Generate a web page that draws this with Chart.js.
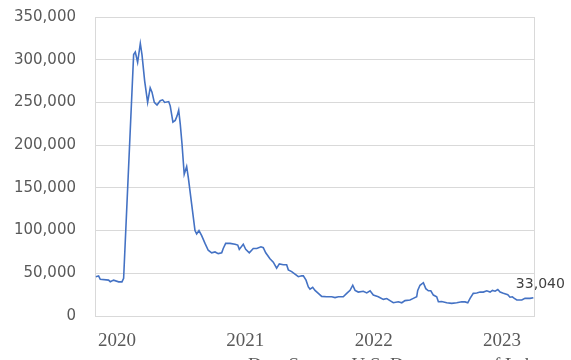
<!DOCTYPE html>
<html>
<head>
<meta charset="utf-8">
<script src="https://cdn.jsdelivr.net/npm/chart.js@4/dist/chart.umd.min.js"></script>
<style>
  html, body { margin: 0; padding: 0; background: #fff; }
  #chart { display: block; }
</style>
</head>
<body>
<canvas id="chart" width="571" height="360"></canvas>
<script>
// ── Data ─────────────────────────────────────────────────────
// position on the time axis, as a decimal year
const yearPos = [
  2019.836, 2019.857, 2019.870, 2019.935, 2019.948, 2019.974, 2020.013, 2020.039, 2020.052,
  2020.130, 2020.143, 2020.161, 2020.182, 2020.195, 2020.216, 2020.239, 2020.259, 2020.273,
  2020.291, 2020.312, 2020.337, 2020.356, 2020.372, 2020.403, 2020.415, 2020.436, 2020.454,
  2020.468, 2020.481, 2020.493, 2020.507, 2020.524, 2020.543, 2020.556, 2020.582, 2020.608,
  2020.621, 2020.639, 2020.660, 2020.686, 2020.711, 2020.738, 2020.764, 2020.789, 2020.816,
  2020.828, 2020.847, 2020.881, 2020.920, 2020.941, 2020.953, 2020.984, 2021.003, 2021.031,
  2021.062, 2021.089, 2021.122, 2021.140, 2021.159, 2021.192, 2021.218, 2021.244, 2021.265,
  2021.296, 2021.322, 2021.335, 2021.361, 2021.387, 2021.413, 2021.439, 2021.452, 2021.473,
  2021.491, 2021.504, 2021.525, 2021.543, 2021.569, 2021.595, 2021.634, 2021.673, 2021.699,
  2021.725, 2021.763, 2021.790, 2021.816, 2021.837, 2021.855, 2021.880, 2021.919, 2021.946,
  2021.972, 2021.997, 2022.036, 2022.075, 2022.102, 2022.127, 2022.153, 2022.192, 2022.219,
  2022.244, 2022.283, 2022.309, 2022.335, 2022.343, 2022.361, 2022.387, 2022.406, 2022.426,
  2022.445, 2022.465, 2022.491, 2022.504, 2022.530, 2022.569, 2022.608, 2022.647, 2022.686,
  2022.712, 2022.733, 2022.751, 2022.776, 2022.803, 2022.829, 2022.854, 2022.881, 2022.907,
  2022.925, 2022.946, 2022.967, 2022.985, 2023.010, 2023.045, 2023.062, 2023.080, 2023.096,
  2023.115, 2023.154, 2023.179, 2023.218, 2023.244,
];

const claims = [
   46000,  47000,  43000,  42000,  40000,  42000,  40000,  40000,  44000,
  306000, 309000, 297000, 319000, 306000, 275000, 250000, 267000, 262000,
  250000, 247000, 252000, 253000, 250000, 251000, 246000, 227000, 229000,
  234000, 241000, 225000, 201000, 166000, 175000, 162000, 131000, 100000,
   96000, 100000,  94000,  85000,  77000,  74000,  75000,  73000,  74000,
   79000,  85000,  85000,  84000,  83000,  78000,  84000,  78000,  74000,
   79000,  79000,  81000,  80000,  74000,  67000,  63000,  56000,  61000,
   60000,  60000,  54000,  52000,  49000,  46000,  47000,  47000,  42000,
   34000,  31500,  33500,  30000,  26500,  23000,  22500,  22500,  21500,
   22500,  22500,  26500,  30000,  36000,  30000,  28000,  29000,  27000,
   29500,  24500,  22500,  19500,  20500,  18000,  15500,  16700,  15500,
   18000,  18700,  20600,  22500,  30000,  36000,  39000,  32000,  29500,
   29500,  24500,  22500,  16700,  17000,  15500,  14800,  15500,  16700,
   16500,  15500,  20600,  26500,  27000,  28000,  28000,  29500,  28000,
   30000,  29000,  31000,  28000,  26500,  25000,  22000,  22500,  20600,
   18700,  18700,  20600,  20600,  21400,
];

const yearTicks  = [2020, 2021, 2022, 2023];
const xRange     = [2019.829, 2023.249];
const yTicks     = [0, 50000, 100000, 150000, 200000, 250000, 300000, 350000];
const lastLabel  = '33,040';
const sourceNote = 'Data Source: U.S. Department of Labor';

// ── Plugins ──────────────────────────────────────────────────
const framePlugin = {
  id: 'frame',
  beforeDatasetsDraw(chart) {
    const { ctx, chartArea: a } = chart;
    ctx.save();
    ctx.strokeStyle = '#d9d9d9';
    ctx.lineWidth = 1;
    ctx.strokeRect(Math.round(a.left) + 0.5, Math.round(a.top) + 0.5,
                   Math.round(a.right - a.left), Math.round(a.bottom - a.top));
    ctx.restore();
  },
};

const endLabelPlugin = {
  id: 'endLabel',
  afterDatasetsDraw(chart) {
    const pts = chart.getDatasetMeta(0).data;
    const p = pts[pts.length - 1];
    const { ctx } = chart;
    ctx.save();
    ctx.font = '14px "DejaVu Sans"';
    ctx.fillStyle = '#404040';
    ctx.textAlign = 'center';
    ctx.textBaseline = 'middle';
    ctx.fillText(lastLabel, p.x + 7, p.y - 13);
    ctx.restore();
  },
};

const sourcePlugin = {
  id: 'source',
  afterDraw(chart) {
    const { ctx } = chart;
    ctx.save();
    ctx.font = '19px "Liberation Serif"';
    ctx.fillStyle = '#595959';
    ctx.textAlign = 'left';
    ctx.textBaseline = 'top';
    ctx.fillText(sourceNote, 248, 357);
    ctx.restore();
  },
};

// ── Chart ────────────────────────────────────────────────────
new Chart(document.getElementById('chart'), {
  type: 'line',
  data: {
    datasets: [{
      data: yearPos.map((x, i) => ({ x, y: claims[i] })),
      borderColor: '#4472c4',
      borderWidth: 1.6,
      pointRadius: 0,
      tension: 0,
      fill: false,
    }],
  },
  options: {
    responsive: false,
    animation: false,
    layout: { padding: { top: 17, right: 37, bottom: 0, left: 0 } },
    plugins: { legend: { display: false }, tooltip: { enabled: false } },
    scales: {
      x: {
        type: 'linear',
        min: xRange[0],
        max: xRange[1],
        afterBuildTicks: s => { s.ticks = yearTicks.map(v => ({ value: v })); },
        afterFit: s => { s.height = 44; s.paddingLeft = 0; s.paddingRight = 0; },
        grid: { display: false, drawTicks: false },
        border: { display: false },
        ticks: {
          autoSkip: false, maxRotation: 0, padding: 14,
          color: '#595959',
          font: { family: 'Liberation Serif', size: 19 },
          callback: v => String(v),
        },
      },
      y: {
        min: 0,
        max: 350000,
        afterBuildTicks: s => { s.ticks = yTicks.map(v => ({ value: v })); },
        afterFit: s => { s.width = 95; s.paddingTop = 0; s.paddingBottom = 0; },
        grid: { color: '#d9d9d9', lineWidth: 1, drawTicks: false },
        border: { display: false },
        ticks: {
          padding: 19,
          color: '#595959',
          font: { family: 'DejaVu Sans', size: 15 },
          callback: v => v.toLocaleString('en-US'),
        },
      },
    },
  },
  plugins: [framePlugin, endLabelPlugin, sourcePlugin],
});
</script>
</body>
</html>
